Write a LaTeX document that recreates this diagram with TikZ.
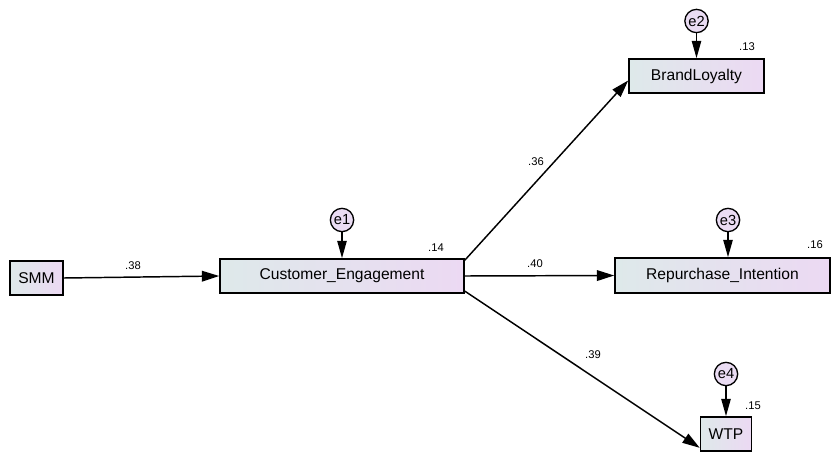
\documentclass[tikz,border=0pt]{standalone}
\usepackage{fontspec}
\setmainfont{Liberation Sans}
\usetikzlibrary{arrows.meta}

\definecolor{boxleft}{RGB}{222,233,234}
\definecolor{boxright}{RGB}{236,217,243}
\definecolor{errfill}{RGB}{234,220,243}

\tikzset{
	var/.style={draw=black, line width=1.2pt, inner sep=0pt, minimum height=25.5pt,
		left color=boxleft, right color=boxright, font=\fontsize{11.7}{13}\selectfont},
	err/.style={circle, draw=black, line width=1pt, fill=errfill, inner sep=0pt,
		minimum size=17.5pt, font=\fontsize{11}{12}\selectfont},
	path/.style={line width=1.1pt, -{Triangle[length=13pt, width=8pt]}},
	errpath/.style={line width=1.1pt, -{Triangle[length=13pt, width=7pt]}},
	coef/.style={font=\fontsize{8.4}{10}\selectfont, inner sep=0pt},
}

\begin{document}
\begin{tikzpicture}[x=0.75pt, y=-0.75pt]
			\useasboundingbox (0,0) rectangle (831,453);
			
			% observed variables
			\node[var, minimum width=39.75pt] (smm) at (36.5,278) {SMM};
			\node[var, minimum width=183pt] (ce) at (342,276) {Customer\_Engagement};
			\node[var, minimum width=101.25pt] (bl) at (696.5,76) {BrandLoyalty};
			\node[var, minimum width=161.25pt, minimum height=26.25pt] (ri) at (722.5,275.5) {Repurchase\_Intention};
			\node[var, minimum width=38.25pt] (wtp) at (726,434) {WTP};
			
			% error terms
			\node[err] (e1) at (342,220) {e1};
			\node[err] (e2) at (696.5,21) {e2};
			\node[err] (e3) at (728,220) {e3};
			\node[err] (e4) at (726,374) {e4};
			
			\draw[errpath] (e1) -- (e1 |- ce.north);
			\draw[errpath] (e2) -- (e2 |- bl.north);
			\draw[errpath] (e3) -- (e3 |- ri.north);
			\draw[errpath] (e4) -- (e4 |- wtp.north);
			
			% squared multiple correlations
			\node[coef] (r1) at (436,248) {.14};
			\node[coef] (r2) at (747,47) {.13};
			\node[coef] (r3) at (815,245) {.16};
			\node[coef] (r4) at (753,406) {.15};
			
			% regression paths
			\draw[path] (smm.east) -- (ce.west);
			\draw[path] ([yshift=-1.5pt]ce.north east) -- ([yshift=10pt]bl.south west);
			\draw[path] (ce.east) -- (ri.west);
			\draw[path] ([yshift=2pt]ce.south east) -- ([yshift=3pt]wtp.south west);
			
			\node[coef] (b1) at (133,266) {.38};
			\node[coef] (b2) at (536,162) {.36};
			\node[coef] (b3) at (535,264) {.40};
			\node[coef] (b4) at (593,355) {.39};
			
		\end{tikzpicture}
\end{document}
